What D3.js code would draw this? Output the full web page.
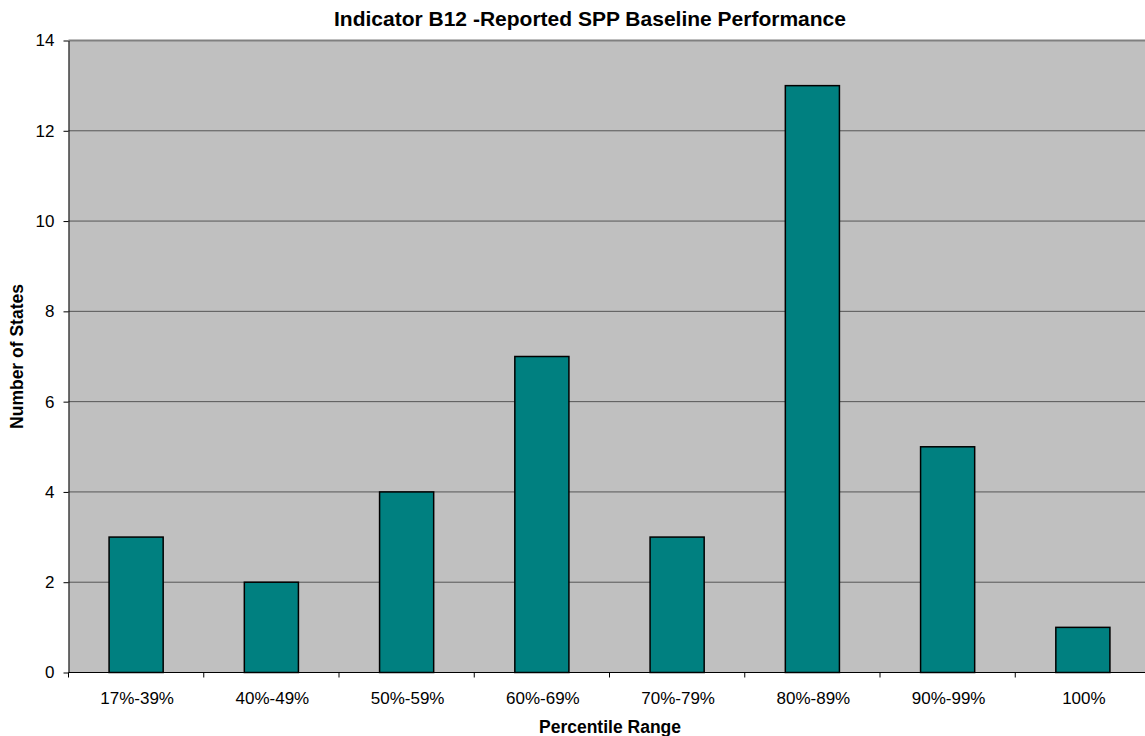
<!DOCTYPE html>
<html>
<head>
<meta charset="utf-8">
<script src="https://cdn.jsdelivr.net/npm/d3@7"></script>
<style>
  body { margin: 0; background: #fff; overflow: hidden; }
  text { font-family: "Liberation Sans", Arial, sans-serif; }
</style>
</head>
<body>
<script>
// data
const categories = ["17%-39%", "40%-49%", "50%-59%", "60%-69%", "70%-79%", "80%-89%", "90%-99%", "100%"];
const states = [3, 2, 4, 7, 3, 13, 5, 1];
const yTicks = [0, 2, 4, 6, 8, 10, 12, 14];

function init() {
    "use strict";

    const w = 1145;
    const h = 736;
    const left = 68.5;
    const right = 1150.5;
    const top = 40.5;
    const bottom = 672.5;

    const svg = d3.select('body')
    .append('svg')
        .attr("width", w)
        .attr("height", h);

    // scales
    const xScale = d3.scaleBand()
                    .domain(categories)
                    .range([left, right])
                    .paddingInner(0.6)
                    .paddingOuter(0.3);

    const yScale = d3.scaleLinear()
                    .domain([0, 14])
                    .range([bottom, top]);

    // plot background
    svg.append('rect')
        .attr("x", left)
        .attr("y", top)
        .attr("width", right - left)
        .attr("height", bottom - top)
        .attr("fill", "#c0c0c0");

    // gridlines
    svg.append('g')
        .selectAll('line')
        .data(yTicks.filter(d => d > 0))
        .enter()
        .append('line')
            .attr("x1", left)
            .attr("x2", right)
            .attr("y1", d => yScale(d))
            .attr("y2", d => yScale(d))
            .attr("stroke", d => d === 14 ? "#808080" : "#555")
            .attr("stroke-width", d => d === 14 ? 2 : 1);

    // bars
    svg.selectAll('rect.bar')
    .data(states)
    .enter()
    .append('rect')
        .attr("class", "bar")
        .attr("x", (d, i) => xScale(categories[i]))
        .attr("y", d => yScale(d))
        .attr("width", xScale.bandwidth())
        .attr("height", d => yScale(0) - yScale(d))
        .attr("fill", "#008080")
        .attr("stroke", "#000")
        .attr("stroke-width", 1.5);

    // axes
    const step = (right - left) / categories.length;
    const xAxis = svg.append('g');
    xAxis.append('line')
        .attr("x1", left).attr("x2", right)
        .attr("y1", bottom).attr("y2", bottom)
        .attr("stroke", "#000");
    xAxis.selectAll('line.tick')
        .data(d3.range(categories.length + 1))
        .enter()
        .append('line')
            .attr("class", "tick")
            .attr("x1", i => left + i * step)
            .attr("x2", i => left + i * step)
            .attr("y1", bottom)
            .attr("y2", bottom + 5)
            .attr("stroke", "#000");
    xAxis.selectAll('text')
        .data(categories)
        .enter()
        .append('text')
            .attr("x", d => xScale(d) + xScale.bandwidth() / 2 + 1)
            .attr("y", 704)
            .attr("text-anchor", "middle")
            .style("font-size", "17px")
            .text(d => d);

    const yAxis = d3.axisLeft(yScale)
                    .tickValues(yTicks)
                    .tickSize(5)
                    .tickSizeOuter(0);
    svg.append('g')
        .attr("transform", "translate(" + left + ",0)")
        .call(yAxis)
        .call(g => g.selectAll('text').style("font-size", "17px").attr("x", -14).attr("font-family", null))
        .call(g => g.select('.domain').attr("stroke", "#000"));

    // titles
    svg.append('text')
        .attr("x", 590)
        .attr("y", 26)
        .attr("text-anchor", "middle")
        .style("font-size", "21px")
        .style("font-weight", "bold")
        .text("Indicator B12 -Reported SPP Baseline Performance");

    svg.append('text')
        .attr("x", 610)
        .attr("y", 733)
        .attr("text-anchor", "middle")
        .style("font-size", "17.5px")
        .style("font-weight", "bold")
        .text("Percentile Range");

    svg.append('text')
        .attr("transform", "translate(23," + ((top + bottom) / 2) + ") rotate(-90)")
        .attr("text-anchor", "middle")
        .style("font-size", "17.5px")
        .style("font-weight", "bold")
        .text("Number of States");
}

window.onload = init;
</script>
</body>
</html>
